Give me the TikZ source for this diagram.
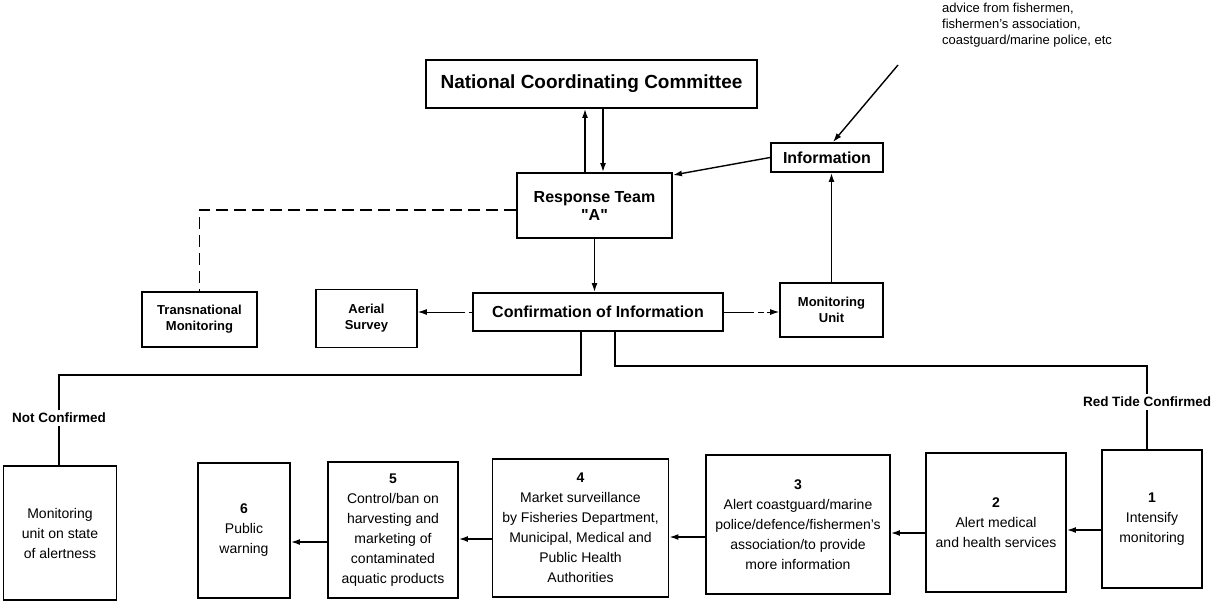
\documentclass[tikz,border=0pt]{standalone}
\usepackage{fontspec}
\setmainfont{Liberation Sans}
\usetikzlibrary{arrows.meta}
\newcommand\sqq{\XeTeXglyph\XeTeXglyphindex "quotedbl" \relax}
\begin{document}
\begin{tikzpicture}[x=1pt,y=-1pt,
  box/.style={draw, line width=1.9pt, align=center, inner sep=1pt},
  tbox/.style={box, font=\fontsize{16}{18}\selectfont\bfseries},
  sbox/.style={box, font=\fontsize{13}{16}\selectfont\bfseries},
  bbox/.style={box, font=\fontsize{14}{20}\selectfont},
  lbl/.style={font=\fontsize{13.5}{16}\selectfont\bfseries, inner sep=3pt},
  con/.style={line width=1.4pt},
  arr/.style={line width=1.4pt, -{Latex[length=9pt,width=6pt]}},
  darr/.style={line width=0.9pt, -{Latex[length=9pt,width=6pt]}},
  dashline/.style={line width=1.4pt, dash pattern=on 12pt off 6pt}
]
\useasboundingbox (0,0) rectangle (1226,606);

% top part
\node[box, font=\fontsize{19}{22}\selectfont\bfseries, minimum width=331pt, minimum height=48pt] (ncc) at (591.5,84) {National Coordinating Committee};
\node[tbox, minimum width=155pt, minimum height=65pt] (rt) at (594.5,205.5) {Response Team\\\sqq A\sqq};
\node[tbox, minimum width=112pt, minimum height=29pt] (info) at (827,157.5) {Information};
\node[tbox, minimum width=250pt, minimum height=38pt] (conf) at (598,312) {Confirmation of Information};
\node[sbox, minimum width=101pt, minimum height=58pt] (aer) at (366.5,318.5) {Aerial\\Survey};
\node[sbox, minimum width=115pt, minimum height=55pt] (trans) at (199.5,319.5) {Transnational\\Monitoring};
\node[sbox, minimum width=103pt, minimum height=54pt] (mu) at (831.5,310) {Monitoring\\Unit};
\node[anchor=north west, align=left, inner sep=0pt, font=\fontsize{13}{16}\selectfont] (adv) at (942,3) {advice from fishermen,\\fishermen's association,\\coastguard/marine police, etc};
\coordinate (advs) at (898,65);

% bottom boxes
\node[bbox, minimum width=113pt, minimum height=134pt] (mon) at (60,533) {Monitoring\\unit on state\\of alertness};
\node[bbox, minimum width=92pt, minimum height=135pt] (b6) at (244,530.5) {\textbf{6}\\Public\\warning};
\node[bbox, minimum width=130pt, minimum height=136pt] (b5) at (393,530) {\textbf{5}\\Control/ban on\\harvesting and\\marketing of\\contaminated\\aquatic products};
\node[bbox, minimum width=176pt, minimum height=138pt] (b4) at (580.5,528) {\textbf{4}\\Market surveillance\\by Fisheries Department,\\Municipal, Medical and\\Public Health\\Authorities};
\node[bbox, minimum width=184pt, minimum height=139pt] (b3) at (798,524.5) {\textbf{3}\\Alert coastguard/marine\\police/defence/fishermen's\\association/to provide\\more information};
\node[bbox, minimum width=140pt, minimum height=139pt] (b2) at (996,522.5) {\textbf{2}\\Alert medical\\and health services};
\node[bbox, minimum width=100pt, minimum height=138pt] (b1) at (1152,519) {\textbf{1}\\Intensify\\monitoring};

\node[lbl] (nc) at (59,418) {Not Confirmed};
\node[lbl] (rtc) at (1147,402) {Red Tide Confirmed};

% connectors top
\draw[arr] (rt.north -| 585,0) -- (ncc.south -| 585,0);
\draw[arr] (ncc.south -| 603,0) -- (rt.north -| 603,0);
\draw[arr] (info.west) -- ([yshift=-3pt]rt.north east);
\draw[arr] (advs) -- ([xshift=6pt]info.north);
\draw[arr] (mu.north) -- (mu.north |- info.south);
\draw[arr] (rt.south) -- (rt.south |- conf.north);
\draw[dashline] (rt.west |- 0,210) -| (trans.north);
\draw[darr, dash pattern=on 3pt off 4pt on 60pt] (conf.west) -- (conf.west -| aer.east);
\draw[darr, dash pattern=on 30pt off 4pt on 6pt off 3pt on 40pt] (conf.east) -- (conf.east -| mu.west);

% branches
\draw[con] (conf.south -| 581,0) -- (581,375) -- (59,375) -- (nc.north);
\draw[con] (nc.south) -- (nc.south |- mon.north);
\draw[con] (conf.south -| 615,0) -- (615,366) -- (1147,366) -- (rtc.north);
\draw[con] (rtc.south) -- (rtc.south |- b1.north);

% bottom arrows
\draw[arr] (b1.west |- 0,530) -- (b2.east |- 0,530);
\draw[arr] (b2.west |- 0,533) -- (b3.east |- 0,533);
\draw[arr] (b3.west |- 0,537) -- (b4.east |- 0,537);
\draw[arr] (b4.west |- 0,539) -- (b5.east |- 0,539);
\draw[arr] (b5.west |- 0,542) -- (b6.east |- 0,542);
\end{tikzpicture}
\end{document}
